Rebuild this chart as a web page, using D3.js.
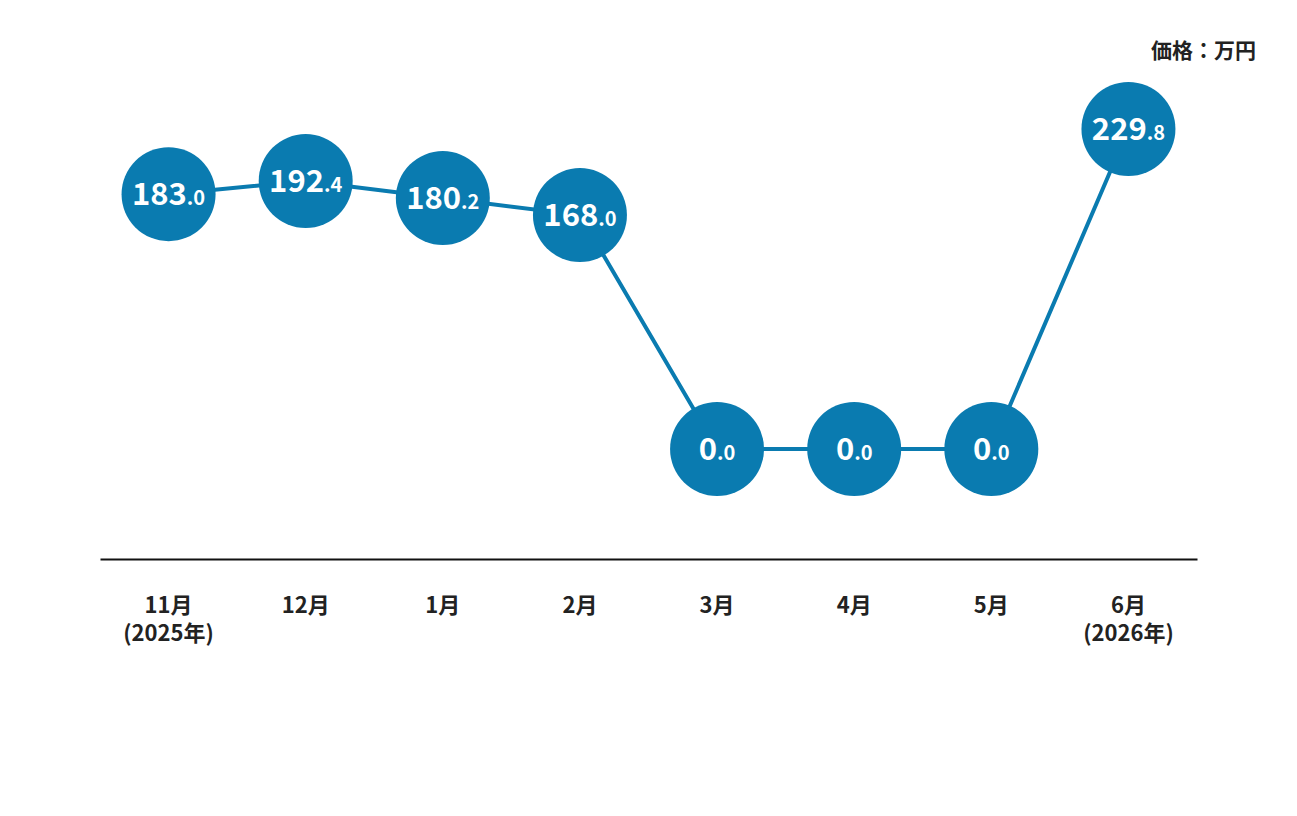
<!DOCTYPE html>
<html>
<head>
<meta charset="utf-8">
<script src="https://cdn.jsdelivr.net/npm/d3@7"></script>
<style>
  body { margin: 0; background: #fff; }
  text { font-family: "Noto Sans CJK JP", "Noto Sans", sans-serif; }
</style>
</head>
<body>
<svg width="1297" height="816"></svg>
<script>
var months = ["11月", "12月", "1月", "2月", "3月", "4月", "5月", "6月"];
var years = ["(2025年)", "", "", "", "", "", "", "(2026年)"];
var prices = [183.0, 192.4, 180.2, 168.0, 0.0, 0.0, 0.0, 229.8];
var unitLabel = "価格：万円";

var svg = d3.select("svg");

var color = "#0a7bb0";

var data = months.map(function(m, i) { return {month: m, year: years[i], value: prices[i]}; });

var x = d3.scaleBand().domain(months).range([100, 1197]);
var y = d3.scaleLinear().domain([0, 229.8]).range([449, 129]);

// baseline axis
var axis = svg.append("g")
    .attr("transform", "translate(0,559)")
    .call(d3.axisBottom(x).tickSize(0).tickFormat(""));
axis.select(".domain").attr("stroke", "#111").attr("stroke-width", 2);

var labels = svg.append("g").selectAll("text")
    .data(data)
  .enter().append("text")
    .attr("x", function(d) { return x(d.month) + x.bandwidth() / 2; })
    .attr("y", 613)
    .attr("text-anchor", "middle")
    .style("font-size", "22px")
    .style("font-weight", "bold")
    .style("fill", "#222");
labels.append("tspan").text(function(d) { return d.month; });
labels.append("tspan")
    .attr("x", function(d) { return x(d.month) + x.bandwidth() / 2; })
    .attr("dy", 28)
    .text(function(d) { return d.year; });

var line = d3.line()
    .x(function(d) { return x(d.month) + x.bandwidth() / 2; })
    .y(function(d) { return y(d.value); });

svg.append("path")
    .datum(data)
    .attr("fill", "none")
    .attr("stroke", color)
    .attr("stroke-width", 4)
    .attr("d", line);

var pt = svg.append("g").selectAll("g")
    .data(data)
  .enter().append("g")
    .attr("transform", function(d) { return "translate(" + (x(d.month) + x.bandwidth() / 2) + "," + y(d.value) + ")"; });

pt.append("circle")
    .attr("r", 47)
    .attr("fill", color);

var vt = pt.append("text")
    .attr("text-anchor", "middle")
    .attr("y", 11)
    .style("fill", "#fff")
    .style("font-weight", "bold");
vt.append("tspan")
    .style("font-size", "31px")
    .text(function(d) { return d.value.toFixed(1).split(".")[0]; });
vt.append("tspan")
    .style("font-size", "20px")
    .text(function(d) { return "." + d.value.toFixed(1).split(".")[1]; });

svg.append("text")
    .attr("x", 1256)
    .attr("y", 58)
    .attr("text-anchor", "end")
    .style("font-size", "21px")
    .style("font-weight", "bold")
    .style("fill", "#222")
    .text(unitLabel);
</script>
</body>
</html>
